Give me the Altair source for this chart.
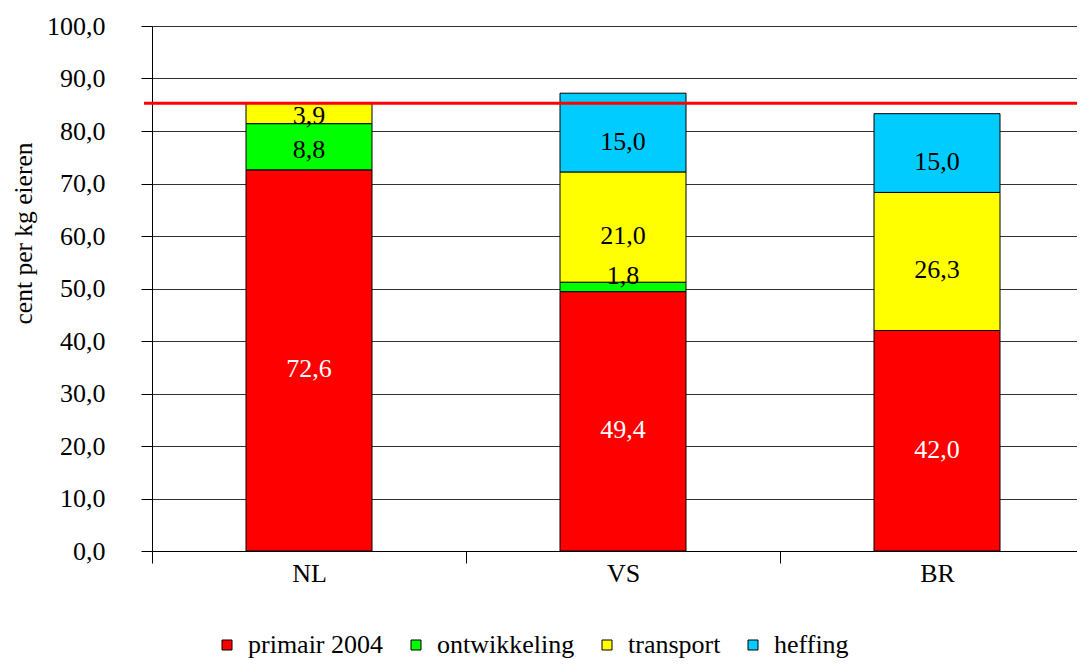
import altair as alt
import pandas as pd

countries = ["NL", "VS", "BR"]
components = ["primair 2004", "ontwikkeling", "transport", "heffing"]
primair = [72.6, 49.4, 42.0]
ontwikkeling = [8.8, 1.8, 0.0]
transport = [3.9, 21.0, 26.3]
heffing = [0.0, 15.0, 15.0]
reference_level = [85.3]
colors = ["#FF0000", "#00FF00", "#FFFF00", "#00CCFF"]
label_colors = ["white", "black", "black", "black"]

series = [primair, ontwikkeling, transport, heffing]
rows = []
for i, c in enumerate(countries):
    base = 0.0
    for j, comp in enumerate(components):
        v = series[j][i]
        if v > 0:
            rows.append(dict(land=c, component=comp, order=j, value=v, y0=base,
                             y1=base + v, mid=base + v / 2,
                             label=f"{v:.1f}".replace(".", ","), lc=label_colors[j]))
        base += v
df = pd.DataFrame(rows)
ref_df = pd.DataFrame({"level": reference_level})

FONT = "Liberation Serif"
FS = 26

x = alt.X("land:N", sort=countries, title=None,
          scale=alt.Scale(paddingInner=0, paddingOuter=0, range=[0, 942]),
          axis=alt.Axis(tickBand="extent", labelAngle=0, domainColor="black",
                        tickColor="black", tickSize=12, labelFont=FONT,
                        labelFontSize=FS, labelColor="black", labelPadding=-3,
                        grid=False))
y = alt.Y("y1:Q", scale=alt.Scale(domain=[0, 100]),
          axis=alt.Axis(values=list(range(0, 101, 10)),
                        labelExpr="replace(format(datum.value, '.1f'), '.', ',')",
                        tickSize=11, tickColor="black", domainColor="black",
                        labelPadding=36, labelFont=FONT, labelFontSize=FS,
                        labelColor="black", grid=True, gridColor="#333",
                        gridOpacity=1, title="cent per kg eieren",
                        titleFont=FONT, titleFontSize=25.5, titleFontWeight="normal",
                        titleColor="black", titlePadding=10, titleY=207))

bars = alt.Chart(df).mark_bar(width=126, stroke="black", strokeWidth=1).encode(
    x=x,
    y=y,
    y2="y0:Q",
    color=alt.Color("component:N",
                    scale=alt.Scale(domain=components, range=colors),
                    legend=alt.Legend(title=None, orient="none", direction="horizontal",
                                      legendX=62, legendY=606, symbolType="square",
                                      symbolSize=100, symbolStrokeColor="black",
                                      symbolStrokeWidth=1, labelFont=FONT,
                                      labelFontSize=FS, labelColor="black",
                                      columnPadding=19, labelOffset=8)),
)


def labels(cond, color, dy):
    return alt.Chart(df).transform_filter(cond).mark_text(
        font=FONT, fontSize=FS, color=color, baseline="middle", dy=dy).encode(
        x=alt.X("land:N", sort=countries), y=alt.Y("mid:Q"), text="label:N")


text_white = labels(alt.datum.lc == "white", "white", 9)
text_black_big = labels((alt.datum.lc == "black") & (alt.datum.value >= 10), "black", 9)
text_black_mid = labels((alt.datum.lc == "black") & (alt.datum.value < 10) & (alt.datum.value >= 3), "black", 3)
text_black_small = labels((alt.datum.lc == "black") & (alt.datum.value < 3), "black", -11)

rule = alt.Chart(ref_df).mark_rule(color="#FF0000", strokeWidth=3).encode(
    y=alt.Y("level:Q"), x=alt.value(-8), x2=alt.value(925))

chart = alt.layer(bars, text_white, text_black_big, text_black_mid, text_black_small, rule).properties(
    width=925, height=525,
    autosize=alt.AutoSizeParams(type="none"),
    padding={"left": 144, "top": 18, "right": 0, "bottom": 110},
).configure_view(strokeWidth=0)

chart.save("out.html", embed_options={"renderer": "svg", "actions": False})
